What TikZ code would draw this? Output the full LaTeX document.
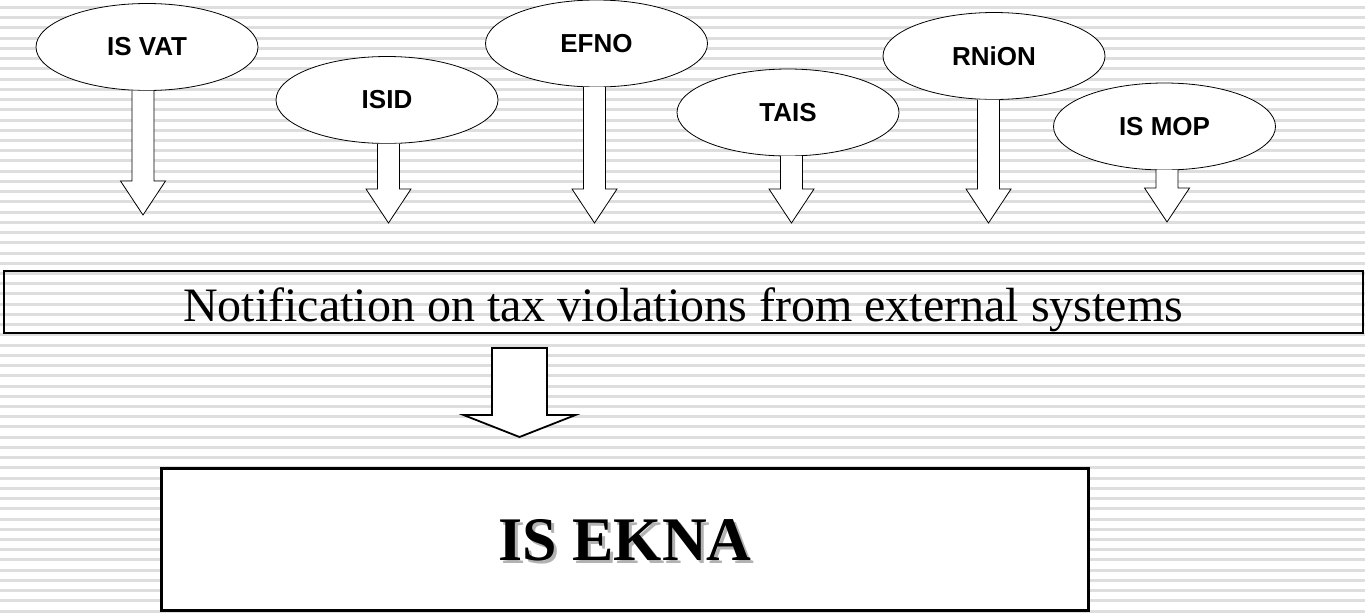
\documentclass[tikz,border=0pt]{standalone}
\usepackage{fontspec}
\setmainfont{Liberation Serif}
\newfontfamily\arialfont{Liberation Sans}
\usetikzlibrary{shapes.geometric,calc}

% bold text with a soft grey drop shadow
\newcommand\dropshadowtext[1]{\makebox[0pt][l]{\hspace{3pt}\raisebox{-3pt}{\textcolor{black!30}{#1}}}#1}

\tikzset{
  stripe/.style={draw=black!13, line width=3pt},
  sysnode/.style={ellipse, draw=black, line width=0.8pt, fill=white,
    minimum width=222pt, minimum height=87pt, inner sep=0pt, outer sep=0pt,
    font=\arialfont\fontsize{26}{30}\selectfont\bfseries},
  notebox/.style={rectangle, draw=black, line width=2pt,
    minimum width=1359pt, inner xsep=0pt, inner ysep=0pt,
    text height=50pt, text depth=12pt,
    font=\fontsize{48}{56}\selectfont},
  eknabox/.style={rectangle, draw=black, line width=3pt, fill=white,
    minimum width=927pt, minimum height=142pt, inner sep=0pt,
    text depth=0pt, font=\fontsize{62}{70}\selectfont\bfseries},
  % hollow block arrow from the start point straight down to the target
  smallarrow/.style={fill=white, draw=black, line width=0.8pt, line join=miter,
    to path={let \p1=(\tikztostart), \p2=(\tikztotarget) in
      (\x2-11pt,\y1) -- (\x2-11pt,\y2+34pt) -- (\x2-22.5pt,\y2+34pt) -- (\x2,\y2)
      -- (\x2+22.5pt,\y2+34pt) -- (\x2+11pt,\y2+34pt) -- (\x2+11pt,\y1)}},
  bigarrow/.style={fill=white, draw=black, line width=1.8pt, line join=miter,
    to path={let \p1=(\tikztostart), \p2=(\tikztotarget) in
      (\x2-27.5pt,\y1) -- (\x2-27.5pt,\y2+22pt) -- (\x2-56pt,\y2+22pt) -- (\x2,\y2)
      -- (\x2+56pt,\y2+22pt) -- (\x2+27.5pt,\y2+22pt) -- (\x2+27.5pt,\y1) -- cycle}},
}

\begin{document}
\begin{tikzpicture}[x=1pt, y=-1pt]
  % page and striped background
  \fill[white] (0,0) rectangle (1365,614);
  \useasboundingbox (0,0) rectangle (1365,614);
  \foreach \k in {0,...,59}
    \draw[stripe] (0,7.5+10.23*\k) -- (1365,7.5+10.23*\k);

  % external systems
  \node[sysnode] (isvat) at (147,47)    {IS VAT};
  \node[sysnode] (isid)  at (387,100)   {ISID};
  \node[sysnode] (efno)  at (596.5,43.5) {EFNO};
  \node[sysnode] (tais)  at (788,112.5) {TAIS};
  \node[sysnode] (rnion) at (994,56)    {RNiON};
  \node[sysnode] (ismop) at (1164.5,126.5) {IS MOP};

  % arrow tips
  \coordinate (tisvat) at (143,215);
  \coordinate (tisid)  at (388.5,223);
  \coordinate (tefno)  at (594.5,223);
  \coordinate (ttais)  at (791.5,223);
  \coordinate (trnion) at (988.5,223);
  \coordinate (tismop) at (1167,222);

  \draw[smallarrow] (isvat.south) to (tisvat);
  \draw[smallarrow] (isid.south)  to (tisid);
  \draw[smallarrow] (efno.south)  to (tefno);
  \draw[smallarrow] (tais.south)  to (ttais);
  \draw[smallarrow] (rnion.south) to (trnion);
  \draw[smallarrow] (ismop.south) to (tismop);

  % collected notifications
  \node[notebox] (note) at (683,302)
    {Notification on tax violations from external systems};

  % target system
  \node[eknabox] (ekna) at (625,539.5) {\dropshadowtext{IS EKNA}};

  \coordinate (bigtop) at ([yshift=-14pt]note.south);
  \coordinate (bigtip) at (519.5,437);
  \draw[bigarrow] (bigtop) to (bigtip);
\end{tikzpicture}
\end{document}
